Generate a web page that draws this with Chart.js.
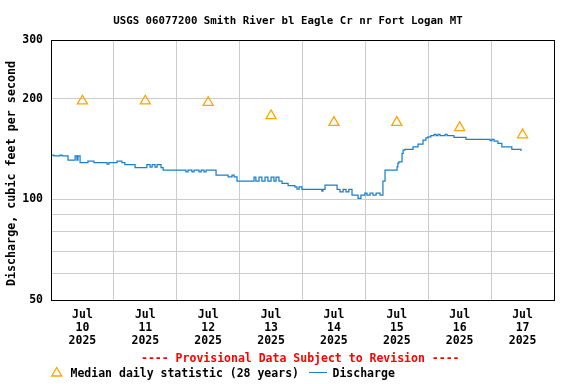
<!DOCTYPE html>
<html><head><meta charset="utf-8">
<script src="https://cdn.jsdelivr.net/npm/chart.js@4.4.1/dist/chart.umd.min.js"></script>
<style>
html,body{margin:0;padding:0;background:#fff;}
#wrap{position:relative;width:576px;height:384px;overflow:hidden;font-family:'DejaVu Sans Mono',monospace;font-weight:bold;color:#000;}
canvas{position:absolute;left:0;top:0;}
.t{position:absolute;white-space:pre;line-height:13px;font-size:11.5px;}
</style></head><body>
<div id="wrap">
<canvas id="c" width="576" height="384"></canvas>
<div class="t" id="title" style="left:0;width:576px;text-align:center;top:14px;font-size:10.75px;"></div>
<div class="t" id="prov" style="left:141px;top:352px;color:#ff0000;"></div>
<svg style="position:absolute;left:0;top:0" width="576" height="384"><polygon points="56.7,367.5 51.7,376 61.7,376" fill="none" stroke="#ffa500" stroke-width="1.3"/></svg>
<div class="t" id="leg1" style="left:70.5px;top:367px;"></div>
<div style="position:absolute;left:309px;top:372px;width:18px;height:0;border-top:1.3px solid #1a80cc;"></div>
<div class="t" id="leg2" style="left:332.5px;top:367px;"></div>
</div>
<script>
// ---- data ----
const titleText = 'USGS 06077200 Smith River bl Eagle Cr nr Fort Logan MT';
const yAxisTitle = 'Discharge, cubic feet per second';
const provisionalText = '---- Provisional Data Subject to Revision ----';
const medianLabel = 'Median daily statistic (28 years)';
const dischargeLabel = 'Discharge';
const tickMonth = 'Jul';
const tickYear = '2025';
const tickDays = ['10','11','12','13','14','15','16','17'];
const yTickValues = [50, 60, 70, 80, 90, 100, 200, 300];
const yTickLabels = [50, 100, 200, 300];
// median daily statistic, one per day (cfs)
const medianCfs = [197, 197, 195, 178, 170, 170, 164, 156];
// discharge: hours since Jul 10 00:00 at which reading changed, and value (cfs)
const dischargeHours = [0,1.1,3.4,4.2,6.5,9.2,9.9,10.3,11.1,14.1,16.4,21.4,22.1,25.2,27.1,28.2,32.1,36.6,37.8,38.6,39.7,40.5,42.0,42.8,51.5,52.3,53.8,54.6,56.5,57.3,58.4,59.2,63.0,67.6,69.1,69.9,71.0,77.5,78.2,79.4,80.5,81.7,82.8,84.0,85.1,85.9,87.0,88.2,90.5,93.1,93.9,94.7,95.8,103.4,103.8,104.6,109.2,110.3,111.5,112.6,113.7,114.9,117.2,118.3,119.8,120.6,121.8,122.9,124.1,125.6,126.7,127.5,132.1,132.4,132.8,134.0,134.4,135.1,138.2,140.1,142.0,143.1,143.9,145.0,146.2,147.0,147.7,148.5,150.4,151.2,153.8,158.4,167.6,168.3,169.1,170.6,172.1,175.9,179.4];
const dischargeCfs = [135.8,134.9,135.8,134.9,131.2,134.9,131.2,134.9,128.9,130.3,128.9,127.6,128.9,130.3,128.9,127.2,124.6,127.2,125.0,127.2,125.0,127.2,124.6,122.4,121.0,122.4,121.0,122.4,121.0,122.4,121.0,122.4,118.3,116.9,118.3,116.9,113.5,116.7,113.5,116.7,113.5,116.7,113.5,116.7,113.5,116.7,113.5,111.7,109.9,109.1,107.4,109.1,107.2,105.8,107.2,110.4,107.2,105.4,107.2,105.4,107.2,103.0,100.7,103.0,104.5,103.0,104.5,103.0,104.5,103.0,113.5,122.4,125.2,128.5,129.6,137.4,140.5,141.2,143.7,146.4,150.6,152.7,154.0,155.1,156.6,155.1,156.6,155.1,156.6,155.1,153.4,151.3,150.0,151.3,149.5,147.2,143.7,141.2,139.5];

document.getElementById('title').textContent = titleText;
document.getElementById('prov').textContent = provisionalText;
document.getElementById('leg1').textContent = medianLabel;
document.getElementById('leg2').textContent = dischargeLabel;

const FONT = 'DejaVu Sans Mono';
const discharge = dischargeHours.map((h, i) => ({x: h, y: dischargeCfs[i]}));
const medians = medianCfs.map((v, i) => ({x: 12 + 24 * i, y: v}));

const frame = {
  id: 'frame',
  afterDraw(chart) {
    const {ctx, chartArea: a} = chart;
    const l = Math.round(a.left - 0.5) + 0.5, t = Math.round(a.top - 0.5) + 0.5;
    const r = Math.round(a.right - 0.5) + 0.5, b = Math.round(a.bottom - 0.5) + 0.5;
    ctx.save();
    ctx.strokeStyle = '#000'; ctx.lineWidth = 1;
    ctx.strokeRect(l, t, r - l, b - t);
    ctx.restore();
  }
};

new Chart(document.getElementById('c'), {
  type: 'scatter',
  data: {
    datasets: [
      {label: dischargeLabel, data: discharge, showLine: true, stepped: true,
       borderColor: '#1a80cc', borderWidth: 1.25, pointRadius: 0, fill: false, order: 2},
      {label: medianLabel, data: medians, showLine: false, pointStyle: 'triangle',
       pointRadius: 5.8, borderColor: '#ffa500', backgroundColor: 'rgba(0,0,0,0)',
       pointBorderWidth: 1.3, order: 1}
    ]
  },
  options: {
    responsive: false, animation: false, devicePixelRatio: 1,
    layout: {padding: {left: 0, top: 40, right: 22, bottom: 0}},
    plugins: {legend: {display: false}, title: {display: false}, tooltip: {enabled: false}},
    scales: {
      x: {
        type: 'linear', min: 0, max: 192,
        afterBuildTicks(s) { const t = []; for (let v = 0; v <= 192; v += 12) t.push({value: v}); s.ticks = t; },
        afterFit(s) { s.height = 84; },
        border: {display: false},
        grid: {drawTicks: false, lineWidth: 1,
          color: (c) => (c.tick && c.tick.value % 24 === 0) ? '#cccccc' : 'rgba(0,0,0,0)'},
        ticks: {autoSkip: false, maxRotation: 0, minRotation: 0, padding: 8, color: '#000',
          font: {family: FONT, size: 11.5, weight: 'bold', lineHeight: 1.16},
          callback: (v) => (v % 24 === 12) ? [tickMonth, tickDays[Math.floor(v / 24)], tickYear] : ''}
      },
      y: {
        type: 'logarithmic', min: 50, max: 300,
        afterBuildTicks(s) { s.ticks = yTickValues.map(v => ({value: v})); },
        afterFit(s) { s.width = 51; },
        border: {display: false},
        grid: {drawTicks: false, color: '#cccccc', lineWidth: 1},
        ticks: {padding: 8, color: '#000', font: {family: FONT, size: 11.5, weight: 'bold'},
          callback: (v) => yTickLabels.includes(v) ? String(v) : ''},
        title: {display: true, text: yAxisTitle + ' ', color: '#000', padding: {top: 5, bottom: 0},
          font: {family: FONT, size: 11.7, weight: 'bold', lineHeight: 1.16}}
      }
    }
  },
  plugins: [frame]
});
</script>
</body></html>
